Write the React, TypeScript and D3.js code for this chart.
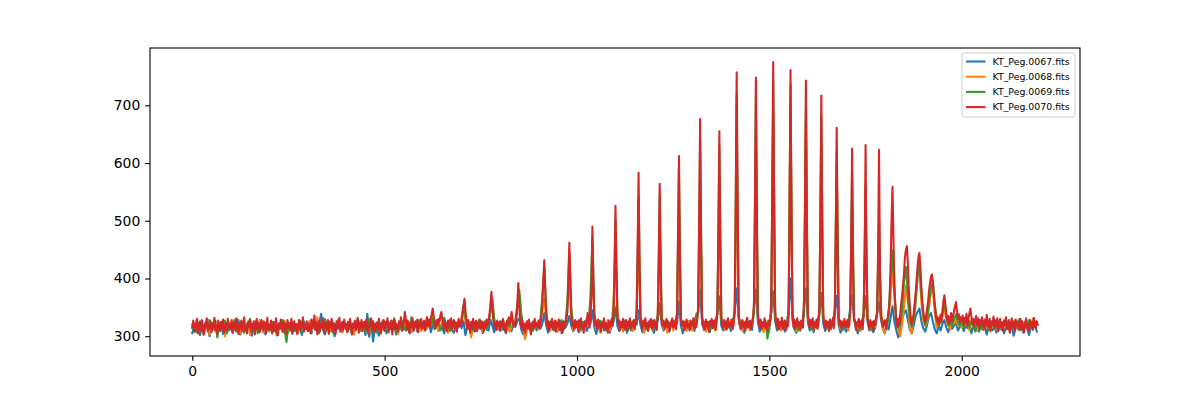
import React, { useEffect, useRef } from 'react';
import * as d3 from 'd3';

// sample spacing along x (frame index) for each file
const STEP_COARSE = 5;
const STEP_FINE = 2.5;

const labels = ['KT_Peg.0067.fits', 'KT_Peg.0068.fits', 'KT_Peg.0069.fits', 'KT_Peg.0070.fits'];
const colors = ['#1f77b4', '#ff7f0e', '#2ca02c', '#d62728'];

const xTicks = [0, 500, 1000, 1500, 2000];
const yTicks = [300, 400, 500, 600, 700];

const peg0067 = [
  305, 318, 311, 322, 302, 315, 309, 325, 313, 300, 319, 312, 327, 308, 316, 321, 304, 314, 323, 310,
  317, 306, 321, 312, 328, 303, 315, 320, 309, 324, 314, 301, 318, 326, 311, 307, 322, 316, 303, 319,
  312, 325, 308, 316, 301, 320, 313, 327, 306, 318, 311, 323, 304, 317, 309, 321, 314, 302, 326, 315,
  310, 319, 305, 323, 316, 308, 321, 339, 312, 303, 318, 326, 309, 315, 300, 322, 313, 318, 307, 324,
  316, 309, 321, 304, 318, 313, 327, 308, 315, 320, 302, 339, 299, 325, 291, 319, 314, 301, 322, 312,
  318, 305, 315, 324, 310, 319, 303, 316, 322, 309, 314, 327, 312, 306, 320, 313, 325, 308, 317, 311,
  321, 310, 316, 327, 307, 319, 313, 324, 309, 318, 314, 305, 322, 316, 328, 311, 306, 320, 315, 323,
  314, 326, 302, 317, 321, 310, 316, 308, 324, 313, 319, 305, 322, 315, 310, 329, 318, 307, 320, 312,
  326, 311, 318, 305, 320, 314, 309, 323, 316, 327, 331, 312, 303, 319, 315, 322, 308, 317, 324, 310,
  318, 313, 322, 340, 319, 306, 316, 324, 310, 318, 313, 327, 305, 320, 315, 322, 335, 318, 309, 316,
  323, 307, 318, 312, 326, 309, 317, 322, 345, 316, 304, 319, 313, 325, 310, 318, 322, 306, 317, 325,
  350, 318, 309, 321, 314, 327, 306, 316, 320, 312, 324, 320, 345, 319, 307, 322, 316, 311, 325, 314,
  306, 320, 328, 357, 320, 310, 317, 324, 308, 321, 314, 327, 322, 360, 318, 305, 320, 313, 326, 316,
  319, 309, 326, 342, 381, 322, 311, 316, 325, 307, 320, 314, 328, 338, 369, 318, 310, 323, 315, 321,
  309, 324, 345, 383, 330, 312, 318, 306, 321, 316, 327, 311, 348, 381, 325, 308, 319, 314, 322, 310,
  318, 340, 378, 326, 310, 320, 314, 325, 308, 317, 345, 400, 328, 312, 306, 319, 323, 315, 350, 383,
  325, 310, 318, 307, 322, 314, 338, 375, 322, 309, 316, 320, 312, 325, 345, 370, 320, 306, 318, 313,
  308, 322, 348, 371, 330, 316, 305, 320, 312, 338, 369, 325, 310, 318, 307, 315, 340, 359, 330, 314,
  305, 320, 312, 332, 352, 325, 310, 298, 312, 330, 340, 345, 328, 312, 305, 318, 335, 342, 348, 326,
  314, 308, 320, 335, 340, 325, 312, 305, 318, 310, 322, 328, 315, 307, 320, 313, 318, 324, 310, 316,
  322, 309, 318, 314, 326, 305, 317, 312, 320, 308, 325, 311, 316, 303, 321, 314, 310, 319, 306, 318,
  312, 320, 305, 316, 322, 309, 317, 301, 314, 325, 310, 318, 306, 321, 313, 302, 319, 311, 324, 308,
];

const peg0068 = [
  320, 312, 327, 306, 318, 323, 310, 316, 329, 303, 314, 321, 308, 325, 317, 311, 322, 300, 319, 313,
  324, 309, 316, 330, 313, 305, 320, 318, 311, 326, 302, 317, 322, 314, 309, 328, 316, 306, 321, 312,
  308, 319, 325, 313, 304, 322, 316, 310, 327, 318, 307, 315, 323, 311, 319, 305, 326, 313, 317, 321,
  315, 327, 309, 320, 313, 333, 306, 318, 322, 311, 325, 304, 316, 321, 310, 319, 328, 312, 307, 323,
  319, 311, 324, 316, 303, 320, 314, 326, 309, 318, 322, 312, 307, 325, 315, 320, 311, 328, 305, 317,
  312, 322, 308, 317, 326, 313, 319, 304, 321, 315, 329, 310, 318, 323, 307, 316, 324, 312, 320, 309,
  317, 325, 313, 320, 328, 335, 316, 322, 309, 319, 324, 312, 318, 306, 321, 315, 327, 311, 319, 325,
  332, 350, 326, 313, 319, 298, 317, 324, 311, 320, 315, 308, 322, 318, 327, 340, 355, 330, 314, 321,
  309, 318, 325, 312, 320, 308, 316, 323, 330, 348, 372, 335, 316, 295, 310, 324, 315, 320, 322, 318,
  312, 326, 345, 365, 330, 318, 310, 323, 316, 327, 308, 320, 314, 325, 319, 350, 400, 338, 311, 322,
  316, 328, 309, 321, 314, 325, 318, 340, 420, 335, 312, 320, 306, 324, 317, 313, 328, 310, 322, 360,
  450, 345, 316, 325, 308, 320, 313, 327, 318, 309, 322, 335, 470, 330, 318, 306, 323, 314, 328, 311,
  320, 325, 335, 480, 330, 312, 322, 306, 318, 327, 310, 325, 335, 520, 330, 315, 322, 309, 326, 318,
  310, 328, 335, 340, 560, 332, 316, 308, 322, 314, 327, 318, 310, 338, 580, 330, 320, 311, 324, 316,
  328, 312, 340, 640, 335, 318, 309, 325, 315, 322, 310, 327, 342, 650, 332, 316, 323, 307, 320, 314,
  324, 345, 690, 335, 316, 323, 310, 319, 326, 312, 340, 700, 333, 318, 309, 325, 314, 322, 338, 680,
  334, 318, 327, 311, 320, 314, 340, 640, 332, 316, 322, 308, 325, 318, 338, 600, 330, 312, 326, 318,
  322, 310, 340, 520, 330, 318, 326, 309, 316, 336, 490, 332, 317, 310, 324, 316, 338, 455, 350, 312,
  305, 320, 332, 370, 420, 368, 325, 310, 300, 322, 350, 388, 360, 315, 305, 330, 370, 405, 414, 360,
  328, 318, 325, 350, 375, 383, 340, 315, 320, 328, 335, 345, 330, 318, 312, 325, 322, 330, 318, 322,
  315, 326, 318, 322, 310, 328, 316, 320, 309, 325, 318, 312, 327, 315, 320, 308, 324, 317, 312, 322,
  318, 310, 326, 315, 322, 307, 320, 314, 328, 312, 318, 323, 309, 325, 316, 320, 312, 330, 318, 325,
];

const peg0069 = [
  314, 322, 307, 318, 326, 311, 303, 320, 315, 328, 309, 317, 323, 298, 316, 321, 312, 327, 305, 319,
  322, 313, 329, 308, 317, 324, 312, 306, 321, 316, 330, 310, 318, 323, 305, 319, 314, 326, 311, 320,
  310, 318, 325, 313, 306, 322, 317, 328, 311, 290, 320, 316, 324, 309, 319, 313, 327, 308, 318, 315,
  321, 309, 316, 326, 312, 319, 305, 323, 317, 330, 310, 318, 325, 307, 320, 314, 329, 311, 317, 322,
  312, 325, 318, 306, 321, 314, 329, 310, 319, 324, 308, 316, 330, 313, 318, 322, 306, 320, 315, 327,
  309, 317, 324, 312, 320, 331, 307, 318, 313, 326, 316, 310, 322, 318, 333, 311, 320, 314, 328, 316,
  323, 313, 319, 327, 316, 330, 312, 320, 325, 310, 318, 332, 315, 322, 309, 326, 318, 313, 324, 319,
  328, 355, 334, 318, 312, 325, 310, 322, 316, 328, 313, 320, 326, 311, 324, 345, 365, 328, 317, 323,
  315, 326, 311, 320, 328, 316, 330, 322, 325, 355, 380, 340, 318, 312, 325, 316, 322, 309, 327, 318,
  323, 330, 370, 420, 345, 315, 326, 318, 312, 325, 320, 316, 328, 311, 322, 360, 445, 350, 320, 314,
  326, 318, 312, 325, 319, 330, 322, 370, 470, 340, 320, 313, 327, 318, 324, 310, 322, 316, 325, 335,
  500, 330, 322, 316, 328, 311, 324, 318, 310, 326, 319, 338, 540, 330, 316, 325, 312, 322, 316, 327,
  314, 322, 336, 545, 328, 320, 315, 327, 312, 320, 326, 318, 338, 590, 330, 322, 314, 326, 318, 312,
  325, 318, 338, 342, 640, 332, 315, 326, 319, 311, 322, 327, 316, 340, 630, 330, 318, 326, 312, 320,
  316, 322, 340, 720, 335, 320, 327, 312, 318, 325, 314, 320, 342, 720, 332, 324, 313, 320, 327, 296,
  312, 345, 740, 335, 325, 316, 322, 312, 327, 319, 342, 735, 333, 318, 326, 310, 321, 317, 340, 700,
  335, 320, 312, 326, 316, 322, 342, 680, 333, 318, 325, 313, 320, 327, 338, 620, 330, 318, 310, 324,
  316, 326, 340, 580, 332, 315, 322, 312, 325, 338, 560, 330, 318, 312, 326, 320, 340, 505, 335, 318,
  326, 312, 338, 400, 449, 380, 330, 315, 322, 345, 395, 420, 372, 330, 316, 328, 355, 400, 430, 375,
  338, 320, 330, 360, 385, 395, 355, 330, 318, 325, 340, 360, 336, 320, 328, 318, 330, 338, 325, 318,
  328, 316, 322, 330, 315, 325, 318, 308, 322, 327, 312, 320, 316, 326, 310, 322, 318, 329, 314, 321,
  320, 312, 327, 318, 323, 309, 317, 326, 314, 321, 330, 316, 311, 324, 318, 328, 313, 320, 316, 325,
];

// sampled twice as finely: it is drawn on top and dominates the band
const peg0070 = [
  316, 327, 308, 321, 312, 330, 305, 319, 324, 310, 328, 314, 303, 322, 317, 331, 309, 320, 313, 326,
  307, 323, 315, 332, 311, 318, 304, 327, 320, 309, 325, 313, 329, 306, 318, 322, 310, 330, 315, 321,
  312, 328, 306, 319, 325, 310, 331, 316, 304, 322, 314, 327, 309, 320, 333, 311, 318, 305, 324, 317,
  329, 308, 321, 314, 326, 303, 318, 330, 312, 323, 307, 319, 328, 315, 310, 325, 320, 306, 332, 313,
  320, 311, 327, 305, 318, 324, 309, 331, 316, 302, 322, 313, 329, 318, 307, 325, 312, 321, 304, 328,
  315, 323, 310, 330, 306, 319, 326, 312, 321, 304, 317, 328, 311, 324, 316, 333, 308, 320, 313, 326,
  309, 322, 317, 305, 329, 314, 320, 336, 311, 325, 303, 318, 327, 310, 322, 315, 331, 306, 319, 324,
  312, 328, 305, 321, 316, 330, 309, 323, 318, 304, 326, 313, 320, 332, 308, 317, 325, 311, 329, 315,
  321, 307, 324, 313, 330, 318, 303, 322, 315, 327, 310, 319, 332, 306, 323, 314, 328, 309, 320, 325,
  312, 329, 316, 304, 322, 318, 331, 310, 326, 313, 307, 320, 324, 311, 330, 317, 305, 323, 315, 328,
  310, 325, 318, 331, 307, 321, 314, 327, 303, 319, 329, 312, 322, 316, 308, 326, 320, 333, 311, 318,
  325, 342, 330, 312, 327, 318, 305, 323, 316, 331, 309, 320, 326, 314, 329, 307, 322, 317, 330, 313,
  321, 327, 310, 324, 333, 318, 329, 315, 332, 338, 348, 334, 322, 314, 328, 319, 330, 325, 336, 342,
  330, 318, 312, 326, 320, 309, 327, 315, 323, 331, 311, 319, 328, 314, 324, 308, 321, 330, 317, 326,
  322, 338, 352, 365, 345, 326, 313, 328, 318, 306, 324, 315, 330, 311, 320, 327, 309, 322, 316, 329,
  313, 326, 318, 308, 323, 315, 329, 319, 327, 338, 355, 377, 350, 328, 316, 322, 311, 327, 318, 324,
  310, 325, 317, 330, 314, 321, 307, 326, 319, 333, 322, 328, 342, 329, 316, 324, 320, 331, 358, 392,
  352, 325, 316, 328, 311, 322, 306, 319, 326, 313, 329, 317, 303, 320, 325, 312, 330, 318, 323, 315,
  327, 314, 322, 335, 360, 398, 432, 380, 335, 318, 326, 310, 324, 316, 330, 312, 321, 327, 308, 323,
  317, 329, 311, 324, 319, 306, 326, 314, 322, 330, 342, 398, 462, 405, 340, 318, 325, 312, 328, 316,
  324, 310, 327, 318, 331, 313, 320, 306, 325, 317, 322, 340, 328, 315, 334, 372, 490, 398, 330, 319,
  326, 312, 329, 317, 321, 308, 325, 316, 331, 313, 323, 319, 306, 327, 315, 322, 330, 318, 338, 410,
  526, 420, 335, 318, 327, 311, 324, 316, 330, 313, 321, 328, 309, 325, 318, 331, 314, 323, 317, 328,
  312, 326, 345, 450, 583, 430, 334, 321, 312, 327, 318, 331, 315, 323, 309, 326, 319, 330, 313, 322,
  328, 316, 324, 311, 338, 430, 564, 412, 330, 319, 327, 313, 322, 330, 316, 325, 309, 323, 318, 331,
  315, 326, 319, 312, 345, 470, 612, 430, 332, 319, 318, 326, 311, 323, 329, 315, 321, 310, 327, 318,
  324, 331, 313, 322, 316, 328, 352, 500, 676, 468, 335, 318, 325, 312, 329, 317, 323, 308, 326, 319,
  330, 314, 322, 327, 311, 325, 348, 480, 655, 455, 334, 320, 315, 328, 319, 312, 326, 331, 316, 323,
  318, 329, 313, 325, 350, 520, 757, 530, 345, 320, 322, 314, 328, 317, 324, 310, 327, 332, 315, 321,
  326, 313, 322, 330, 360, 520, 748, 500, 342, 321, 316, 329, 312, 324, 318, 331, 314, 323, 310, 327,
  319, 328, 365, 560, 775, 510, 345, 323, 316, 330, 312, 325, 318, 332, 314, 322, 327, 310, 324, 317,
  330, 520, 761, 490, 345, 316, 329, 313, 322, 331, 318, 324, 310, 327, 320, 315, 365, 520, 743, 480,
  340, 322, 315, 328, 319, 331, 312, 324, 317, 329, 313, 326, 350, 500, 717, 470, 338, 321, 314, 327,
  318, 325, 310, 329, 316, 322, 331, 314, 340, 470, 661, 440, 336, 320, 327, 313, 324, 318, 330, 315,
  322, 328, 316, 318, 345, 450, 625, 420, 332, 326, 311, 324, 317, 330, 315, 322, 328, 312, 338, 420,
  631, 430, 335, 321, 314, 328, 317, 324, 311, 327, 319, 330, 342, 440, 623, 410, 338, 322, 316, 325,
  328, 314, 325, 332, 345, 362, 420, 500, 559, 470, 390, 348, 325, 316, 330, 320, 338, 355, 370, 388,
  410, 438, 450, 456, 425, 380, 352, 334, 320, 328, 340, 355, 372, 395, 420, 438, 444, 420, 385, 360,
  342, 330, 324, 336, 348, 360, 378, 392, 403, 407, 392, 370, 352, 338, 326, 333, 320, 329, 337, 325,
  346, 362, 371, 355, 338, 327, 335, 322, 330, 340, 326, 334, 344, 352, 359, 345, 330, 338, 324, 333,
  327, 336, 320, 332, 325, 339, 318, 330, 340, 348, 334, 322, 330, 316, 327, 335, 320, 331, 314, 328,
  319, 333, 324, 312, 329, 318, 337, 322, 315, 330, 310, 326, 320, 334, 313, 327, 318, 331, 309, 324,
  330, 316, 324, 309, 327, 319, 333, 312, 322, 328, 306, 320, 331, 315, 324, 311, 329, 318, 325, 313,
  322, 330, 311, 326, 318, 307, 324, 331, 315, 321, 310, 328, 317, 325, 312, 332, 319, 314, 326, 320,
];

const allSeries = [peg0067, peg0068, peg0069, peg0070];
const steps = [STEP_COARSE, STEP_COARSE, STEP_COARSE, STEP_FINE];

function Chart() {
  const ref = useRef<SVGSVGElement>(null);

  useEffect(() => {
    const W = 1200, H = 400;
    const margin = { top: 48, right: 120, bottom: 44, left: 150 };
    const width = W - margin.left - margin.right;
    const height = H - margin.top - margin.bottom;

    const svg = d3.select(ref.current);
    svg.selectAll('*').remove();
    svg.append('rect').attr('width', W).attr('height', H).attr('fill', '#fff');

    const g = svg.append('g').attr('transform', `translate(${margin.left},${margin.top})`);

    // matplotlib style 5% margins
    const xMax = d3.max(allSeries, (s, i) => (s.length - 1) * steps[i]) as number;
    const xPad = xMax * 0.05;
    const x = d3.scaleLinear().domain([-xPad, xMax + xPad]).range([0, width]);

    const yMin = d3.min(allSeries, s => d3.min(s)) as number;
    const yMaxV = d3.max(allSeries, s => d3.max(s)) as number;
    const yPad = (yMaxV - yMin) * 0.05;
    const y = d3.scaleLinear().domain([yMin - yPad, yMaxV + yPad]).range([height, 0]);

    g.append('clipPath').attr('id', 'plot-clip')
      .append('rect').attr('width', width).attr('height', height);

    const plot = g.append('g').attr('clip-path', 'url(#plot-clip)');
    allSeries.forEach((s, k) => {
      const line = d3.line<number>()
        .x((d, i) => x(i * steps[k]))
        .y(d => y(d));
      plot.append('path')
        .attr('d', line(s))
        .attr('fill', 'none')
        .attr('stroke', colors[k])
        .attr('stroke-width', 2.08)
        .attr('stroke-linejoin', 'round')
        .attr('stroke-linecap', 'square');
    });

    const tickFont = 'DejaVu Sans, sans-serif';

    const xAxis = g.append('g')
      .attr('transform', `translate(0,${height})`)
      .call(d3.axisBottom(x).tickValues(xTicks).tickSize(4.86).tickPadding(4.86).tickFormat(d3.format('d')));
    const yAxis = g.append('g')
      .call(d3.axisLeft(y).tickValues(yTicks).tickSize(4.86).tickPadding(4.86).tickFormat(d3.format('d')));

    [xAxis, yAxis].forEach(a => {
      a.select('.domain').remove();
      a.selectAll('line').attr('stroke', '#000').attr('stroke-width', 1.1);
      a.selectAll('text').attr('fill', '#000').style('font-family', tickFont).style('font-size', '13.9px');
    });

    // axes frame
    g.append('rect')
      .attr('width', width).attr('height', height)
      .attr('fill', 'none').attr('stroke', '#000').attr('stroke-width', 1.1);

    // legend, upper right
    const fs = 9.4;
    const legend = g.append('g').attr('transform', `translate(${width - 118},${5})`);
    legend.append('rect')
      .attr('width', 113).attr('height', 64).attr('rx', 2)
      .attr('fill', '#fff').attr('fill-opacity', 0.8)
      .attr('stroke', '#ccc').attr('stroke-width', 1);

    const rows = legend.selectAll('g.row').data(labels).join('g')
      .attr('class', 'row')
      .attr('transform', (d, i) => `translate(0,${8.5 + i * 15.2})`);
    rows.append('line')
      .attr('x1', 4).attr('x2', 23.5)
      .attr('stroke', (d, i) => colors[i]).attr('stroke-width', 2.08);
    rows.append('text')
      .attr('x', 30.5).attr('dy', '0.35em')
      .style('font-family', tickFont).style('font-size', `${fs}px`)
      .attr('fill', '#000')
      .text(d => d);
  }, []);

  return <svg ref={ref} width={1200} height={400} style={{ position: 'absolute', left: 0, top: 0 }} />;
}

export default function App() {
  return <Chart />;
}
